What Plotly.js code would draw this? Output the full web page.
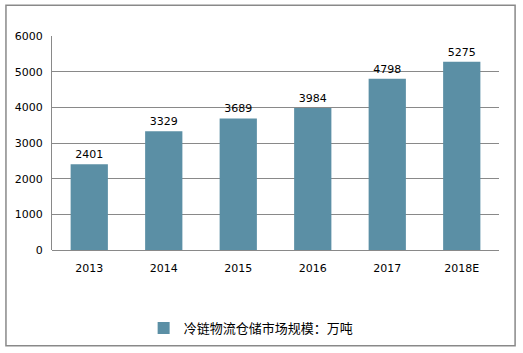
<!DOCTYPE html>
<html><head><meta charset="utf-8">
<script src="https://cdn.plot.ly/plotly-3.0.1.min.js"></script>
<style>body{margin:0;background:#fff}#c{width:523px;height:353px}</style>
</head><body><div id="c"></div>
<script>
const categories = ["2013","2014","2015","2016","2017","2018E"];
const values = [2401,3329,3689,3984,4798,5275];
const seriesName = "冷链物流仓储市场规模：万吨";
const yTicks = [0,1000,2000,3000,4000,5000,6000];

const trace = {
  type: "bar", x: categories, y: values, name: seriesName,
  marker: {color: "#5b8fa5"},
  text: values.map(String), textposition: "outside", cliponaxis: false,
  textfont: {family: "DejaVu Sans, Noto Sans CJK SC", size: 11, color: "#000"},
  width: 0.5
};
const layout = {
  width: 523, height: 353,
  margin: {l: 52, r: 24, t: 36, b: 102},
  paper_bgcolor: "#fff", plot_bgcolor: "#fff",
  font: {family: "DejaVu Sans, Noto Sans CJK SC", size: 11, color: "#000"},
  showlegend: true,
  legend: {orientation: "h", x: 0.205, xanchor: "left", y: -0.358, yanchor: "middle",
    font: {family: "Noto Sans CJK SC", size: 13, color: "#000"}},
  xaxis: {type: "category", showgrid: false, showline: false, ticks: "", ticklabelstandoff: 10, tickfont: {size: 11}},
  yaxis: {range: [0, 6000], tickvals: yTicks, showgrid: true, gridcolor: "#898989", gridwidth: 1,
    showline: true, linecolor: "#898989", zeroline: true, zerolinecolor: "#898989", ticks: "",
    ticklabelstandoff: 6, tickfont: {size: 11}},
  bargap: 0.5,
  shapes: [{type: "rect", xref: "paper", yref: "paper", x0: -0.103, x1: 1.036, y0: -0.447, y1: 1.144,
    line: {color: "#898989", width: 1.5}, fillcolor: "rgba(0,0,0,0)", layer: "below"}]
};
Plotly.newPlot("c", [trace], layout, {displayModeBar: false, staticPlot: true});
</script></body></html>
